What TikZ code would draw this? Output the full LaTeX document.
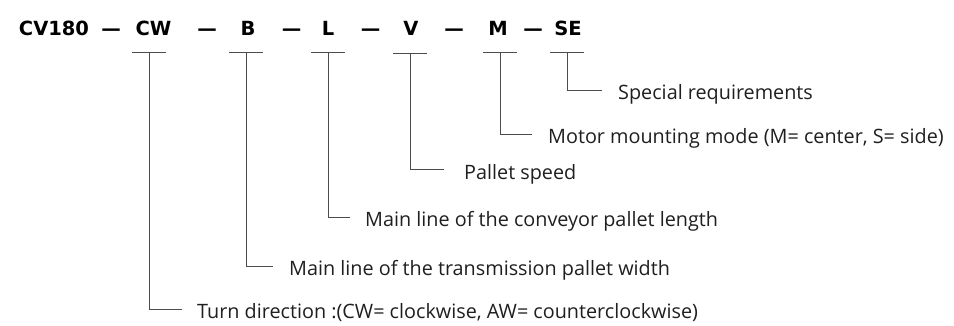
\documentclass[tikz,border=0pt]{standalone}
\usepackage{fontspec}
\setmainfont{Open Sans}
\newfontfamily\codefont{DejaVu Sans}
\usetikzlibrary{positioning}

\tikzset{
	code/.style={anchor=base, inner sep=0pt, text=black, font=\codefont\bfseries\fontsize{19.5}{19.5}\selectfont},
	lbl/.style={anchor=base west, inner sep=0pt, text=black!88, font=\fontsize{19.8}{19.8}\selectfont},
	bar/.style={draw=black!70, line width=0.9pt},
}

\begin{document}
\begin{tikzpicture}[x=1pt, y=-1pt]
\useasboundingbox (0,0) rectangle (954,325);

% model code
\node[code] (cv) at (54,35) {CV180};
\node[code] (d1) at (111,35) {\textemdash};
\node[code] (cw) at (153.5,35) {CW};
\node[code] (d2) at (207,35) {\textemdash};
\node[code] (b) at (248,35) {B};
\node[code] (d3) at (291.5,35) {\textemdash};
\node[code] (l) at (328,35) {L};
\node[code] (d4) at (370.5,35) {\textemdash};
\node[code] (v) at (411,35) {V};
\node[code] (d5) at (454,35) {\textemdash};
\node[code] (m) at (498,35) {M};
\node[code] (d6) at (533,35) {\textemdash};
\node[code] (se) at (568,35) {SE};

% descriptions
\node[lbl] (special) at (618,99) {Special requirements};
\node[lbl] (motor) at (548,143) {Motor mounting mode (M= center, S= side)};
\node[lbl] (speed) at (464,179) {Pallet speed};
\node[lbl] (length) at (365,226) {Main line of the conveyor pallet length};
\node[lbl] (width) at (289,275) {Main line of the transmission pallet width};
\node[lbl] (turn) at (197,318) {Turn direction :(CW= clockwise, AW= counterclockwise)};

% bars under the code
\coordinate (cwtop) at (149,52);
\coordinate (btop) at (246,52);
\coordinate (ltop) at (328,52);
\coordinate (vtop) at (410,53);
\coordinate (mtop) at (500,52);
\coordinate (setop) at (567,52);

\foreach \t in {cwtop,btop,ltop,vtop,mtop,setop}
	\draw[bar] ([xshift=-17pt]\t) -- ([xshift=17pt]\t);

% leaders
\draw[bar] (setop) |- ([xshift=-16pt,yshift=9pt]special.base west);
\draw[bar] (mtop) |- ([xshift=-16pt,yshift=9pt]motor.base west);
\draw[bar] (vtop) |- ([xshift=-20pt,yshift=10pt]speed.base west);
\draw[bar] (ltop) |- ([xshift=-15pt,yshift=9pt]length.base west);
\draw[bar] (btop) |- ([xshift=-16pt,yshift=9pt]width.base west);
\draw[bar] (cwtop) |- ([xshift=-15pt,yshift=9pt]turn.base west);

\end{tikzpicture}
\end{document}
